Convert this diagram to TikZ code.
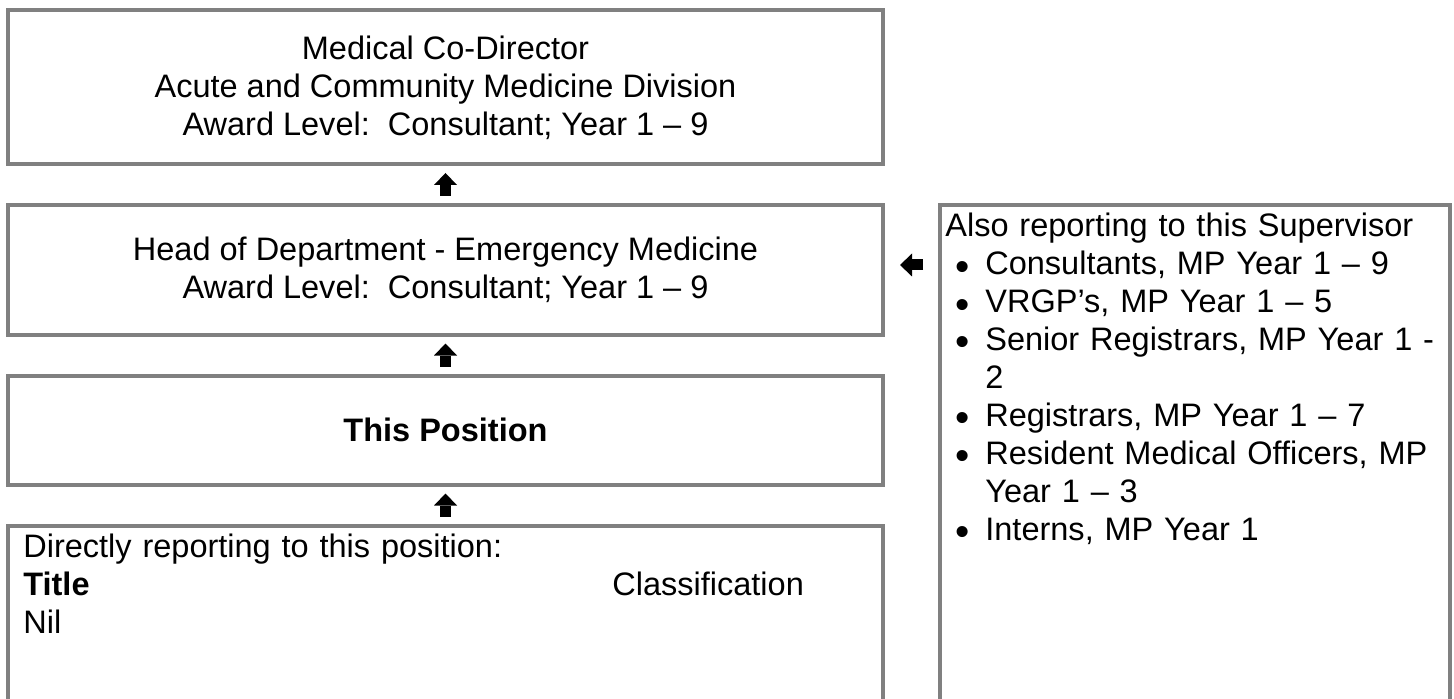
\documentclass[tikz,border=0pt]{standalone}
\usepackage{fontspec}
\setmainfont{Liberation Sans}
\usetikzlibrary{positioning, arrows.meta}

% bullet line with hanging indent
\newcommand{\itm}{\par\hangindent=0.8cm\hangafter=1\noindent\makebox[0.8cm][l]{\hspace{0.2cm}\raisebox{-0.16em}{\scalebox{1.25}{\textbullet}}}}

\begin{document}
\begin{tikzpicture}[
  node distance=0.81cm and 1.14cm,
  font=\fontsize{18.5}{21.6}\selectfont,
  % box styles
  orgbox/.style={draw=gray, line width=0.08cm, rectangle, minimum width=17.5cm, outer sep=0pt, inner sep=0pt, align=center},
  sidebox/.style={draw=gray, line width=0.08cm, rectangle, minimum width=10.2cm, minimum height=10cm, outer sep=0pt},
  listtext/.style={anchor=north west, align=left, inner ysep=0.16cm},
  % block arrows
  blk/.style={draw, line width=0.22cm, -{Triangle[length=0.24cm, width=0.46cm, line width=0pt]}, shorten <=0.18cm, shorten >=0.17cm}
]

  \useasboundingbox (0,0) rectangle (29.08,-13.98);
  \clip (0,0) rectangle (29.08,-13.98);

  % ==========================================
  % CHAIN OF POSITIONS
  % ==========================================
  \node[orgbox, minimum height=3.08cm] (med) at (8.91,-1.75) {Medical Co-Director\\Acute and Community Medicine Division\\Award Level:\ \ Consultant; Year 1 -- 9};
  \node[orgbox, minimum height=2.6cm, below=of med] (head) {Head of Department - Emergency Medicine\\Award Level:\ \ Consultant; Year 1 -- 9};
  \node[orgbox, minimum height=2.19cm, below=of head] (pos) {\textbf{This Position}};

  % --- direct reports (runs off the page) ---
  \node[orgbox, minimum height=4cm, below=of pos] (direct) {};
  \node[listtext, inner xsep=0.3cm, text width=16.9cm] (directtxt) at (direct.north west) {Directly reporting to this position:\par
    \makebox[11.78cm][l]{\textbf{Title}}Classification\par
    Nil};

  % --- other staff of the supervisor ---
  \node[sidebox, anchor=north west] (also) at ([xshift=1.14cm]head.north east) {};
  \node[listtext, inner xsep=0.1cm, text width=10cm] (alsotxt) at (also.north west) {Also reporting to this Supervisor
    \itm Consultants, MP Year 1 -- 9
    \itm VRGP’s, MP Year 1 -- 5
    \itm Senior Registrars, MP Year 1 -\newline 2
    \itm Registrars, MP Year 1 -- 7
    \itm Resident Medical Officers, MP\newline Year 1 -- 3
    \itm Interns, MP Year 1};

  % ==========================================
  % ARROWS
  % ==========================================
  \draw[blk] (head.north) -- (med.south);
  \draw[blk] (pos.north) -- (head.south);
  \draw[blk] (direct.north) -- (pos.south);
  \draw[blk, shorten <=0.34cm, shorten >=0.34cm] ([yshift=0.1cm]head.east -| also.west) -- ([yshift=0.1cm]head.east);

\end{tikzpicture}
\end{document}
